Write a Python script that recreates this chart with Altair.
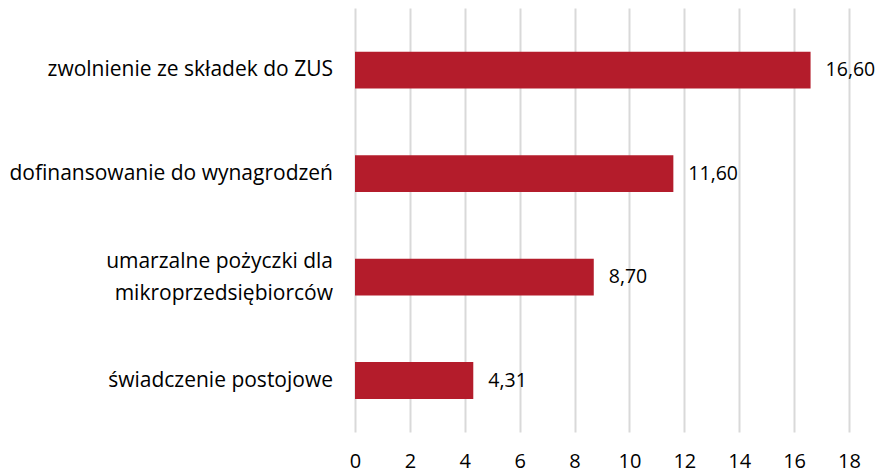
import altair as alt
import pandas as pd

categories = ["zwolnienie ze składek do ZUS", "dofinansowanie do wynagrodzeń",
              "umarzalne pożyczki dla|mikroprzedsiębiorców", "świadczenie postojowe"]
values = [16.60, 11.60, 8.70, 4.31]
labels = ["16,60", "11,60", "8,70", "4,31"]

df = pd.DataFrame({"cat": categories, "val": values, "lab": labels})

FONT = "Open Sans"
FS = 20
y = alt.Y("cat:N", sort=categories, title=None,
          scale=alt.Scale(paddingInner=0.643, paddingOuter=0.37, align=0.57),
          axis=None)
x = alt.X("val:Q", title=None,
          scale=alt.Scale(domain=[0, 18], nice=False),
          axis=alt.Axis(values=list(range(0, 19, 2)), ticks=False, domain=False,
                        labelPadding=19, labelFontSize=FS, labelFont=FONT,
                        labelColor="#000000", gridColor="#d9d9d9", gridWidth=2,
                        labelFlush=False))

bars = alt.Chart(df).mark_bar(color="#B41C2B").encode(x=x, y=y)
text = alt.Chart(df).mark_text(align="left", dx=15, fontSize=19.5, font=FONT, color="#000000").encode(
    x="val:Q", y=alt.Y("cat:N", sort=categories), text="lab:N")
ylab_single = alt.Chart(df).transform_filter("indexof(datum.cat, '|') < 0").mark_text(
    align="right", baseline="middle", fontSize=21, font=FONT, color="#000000").encode(
    x=alt.value(-22), y=alt.Y("cat:N", sort=categories), text="cat:N")
ylab_multi = alt.Chart(df).transform_filter("indexof(datum.cat, '|') >= 0").mark_text(
    align="right", baseline="middle", fontSize=21, font=FONT, color="#000000",
    lineBreak="|", lineHeight=32, dy=-15).encode(
    x=alt.value(-22), y=alt.Y("cat:N", sort=categories), text="cat:N")

chart = (bars + text + ylab_single + ylab_multi).properties(
    width=494, height=424,
    autosize=alt.AutoSizeParams(type="none"),
    padding={"left": 347, "top": 0, "right": 26, "bottom": 40},
).configure_view(stroke=None)

chart.save("out.html", embed_options={"renderer": "svg", "actions": False})
